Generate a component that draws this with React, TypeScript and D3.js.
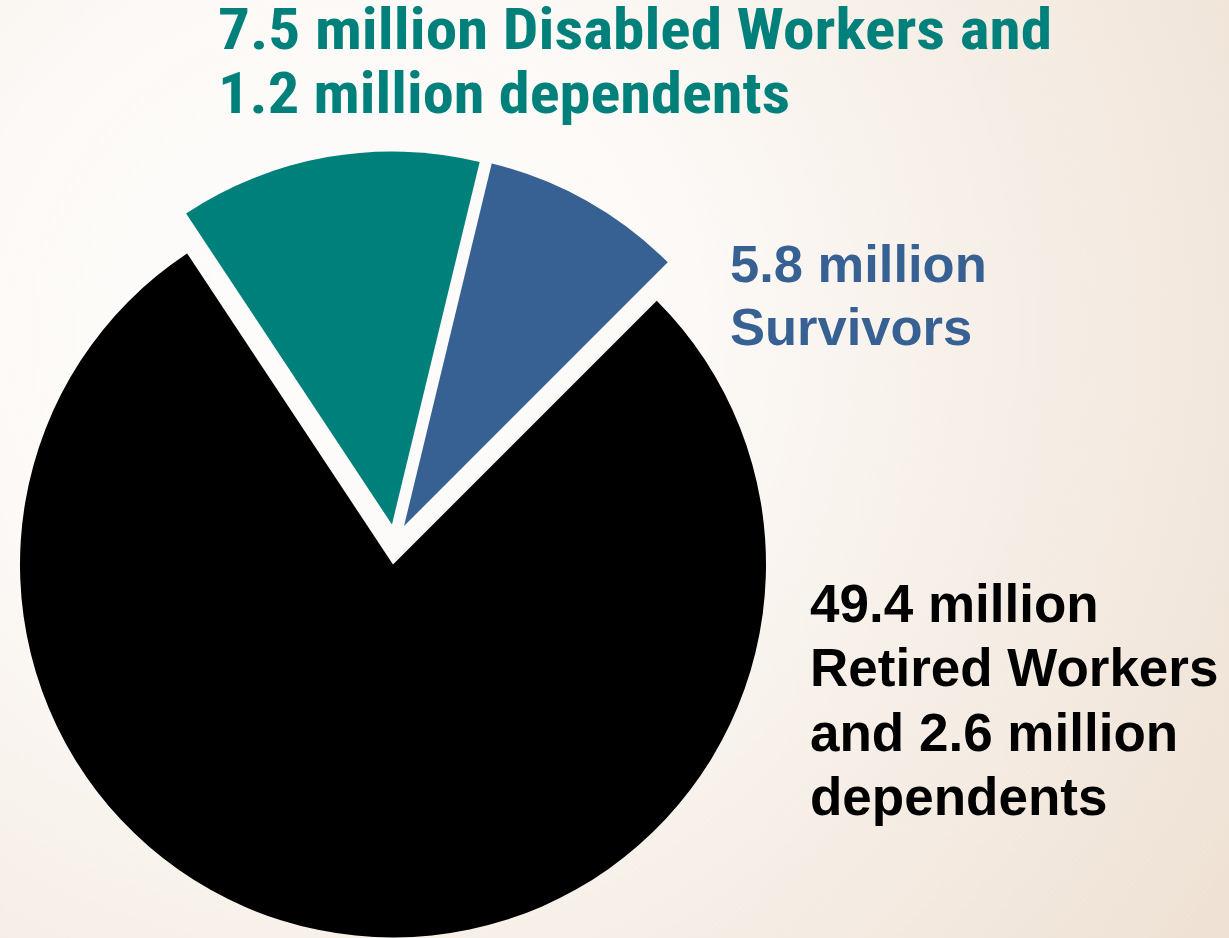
import React from "react";
import * as d3 from "d3";

const W = 1229;
const H = 938;

// Data
const categories = ["Retired Workers and dependents", "Disabled Workers and dependents", "Survivors"];
const values = [52.0, 8.7, 5.8]; // millions (49.4 + 2.6, 7.5 + 1.2, 5.8)
const colors = ["#000000", "#00807b", "#386193"];
const explodeDist = [0, 40, 40];
const explodeAngleDeg = [0, -1.5, 16];

const labelTeal = ["7.5 million Disabled Workers and", "1.2 million dependents"];
const labelBlue = ["5.8 million", "Survivors"];
const labelBlack = ["49.4 million", "Retired Workers", "and 2.6 million", "dependents"];

export default function App() {
  const cx = 393;
  const cy = 564.5;
  const R = 373;

  const pie = d3
    .pie<number>()
    .sort(null)
    .startAngle(Math.PI / 4)
    .endAngle(Math.PI / 4 + 2 * Math.PI);
  const arcs = pie(values);
  const arc = d3.arc<d3.PieArcDatum<number>>().innerRadius(0).outerRadius(R);

  const boldFont = "'Liberation Sans', Arial, Helvetica, sans-serif";
  const narrowFont = "'Liberation Sans Narrow', 'Arial Narrow', 'Roboto Condensed', 'Liberation Sans', Arial, sans-serif";

  return (
    <svg
      width={W}
      height={H}
      style={{ position: "absolute", left: 0, top: 0, display: "block" }}
    >
      <defs>
        <radialGradient id="bg" cx="330" cy="330" r="1050" gradientUnits="userSpaceOnUse">
          <stop offset="0" stopColor="#fefdfc" />
          <stop offset="0.35" stopColor="#fcf9f6" />
          <stop offset="1" stopColor="#efe2d5" />
        </radialGradient>
      </defs>
      <rect x={0} y={0} width={W} height={H} fill="url(#bg)" />

      {arcs.map((a, i) => {
        const ang = (explodeAngleDeg[i] * Math.PI) / 180;
        const dx = Math.sin(ang) * explodeDist[i];
        const dy = -Math.cos(ang) * explodeDist[i];
        return (
          <path
            key={categories[i]}
            d={arc(a) || ""}
            fill={colors[i]}
            transform={`translate(${cx + dx},${cy + dy})`}
          />
        );
      })}

      <g fill={colors[1]} fontFamily={narrowFont} fontWeight="bold" fontSize={57}>
        <text x={218} y={49} textLength={834} lengthAdjust="spacingAndGlyphs">
          {labelTeal[0]}
        </text>
        <text x={218} y={113} textLength={572} lengthAdjust="spacingAndGlyphs">
          {labelTeal[1]}
        </text>
      </g>

      <g fill={colors[2]} fontFamily={boldFont} fontWeight="bold" fontSize={52.5}>
        {labelBlue.map((t, i) => (
          <text key={t} x={730} y={282 + i * 63}>
            {t}
          </text>
        ))}
      </g>

      <g fill={colors[0]} fontFamily={boldFont} fontWeight="bold" fontSize={53}>
        {labelBlack.map((t, i) => (
          <text key={t} x={810} y={622 + i * 64.3}>
            {t}
          </text>
        ))}
      </g>
    </svg>
  );
}
